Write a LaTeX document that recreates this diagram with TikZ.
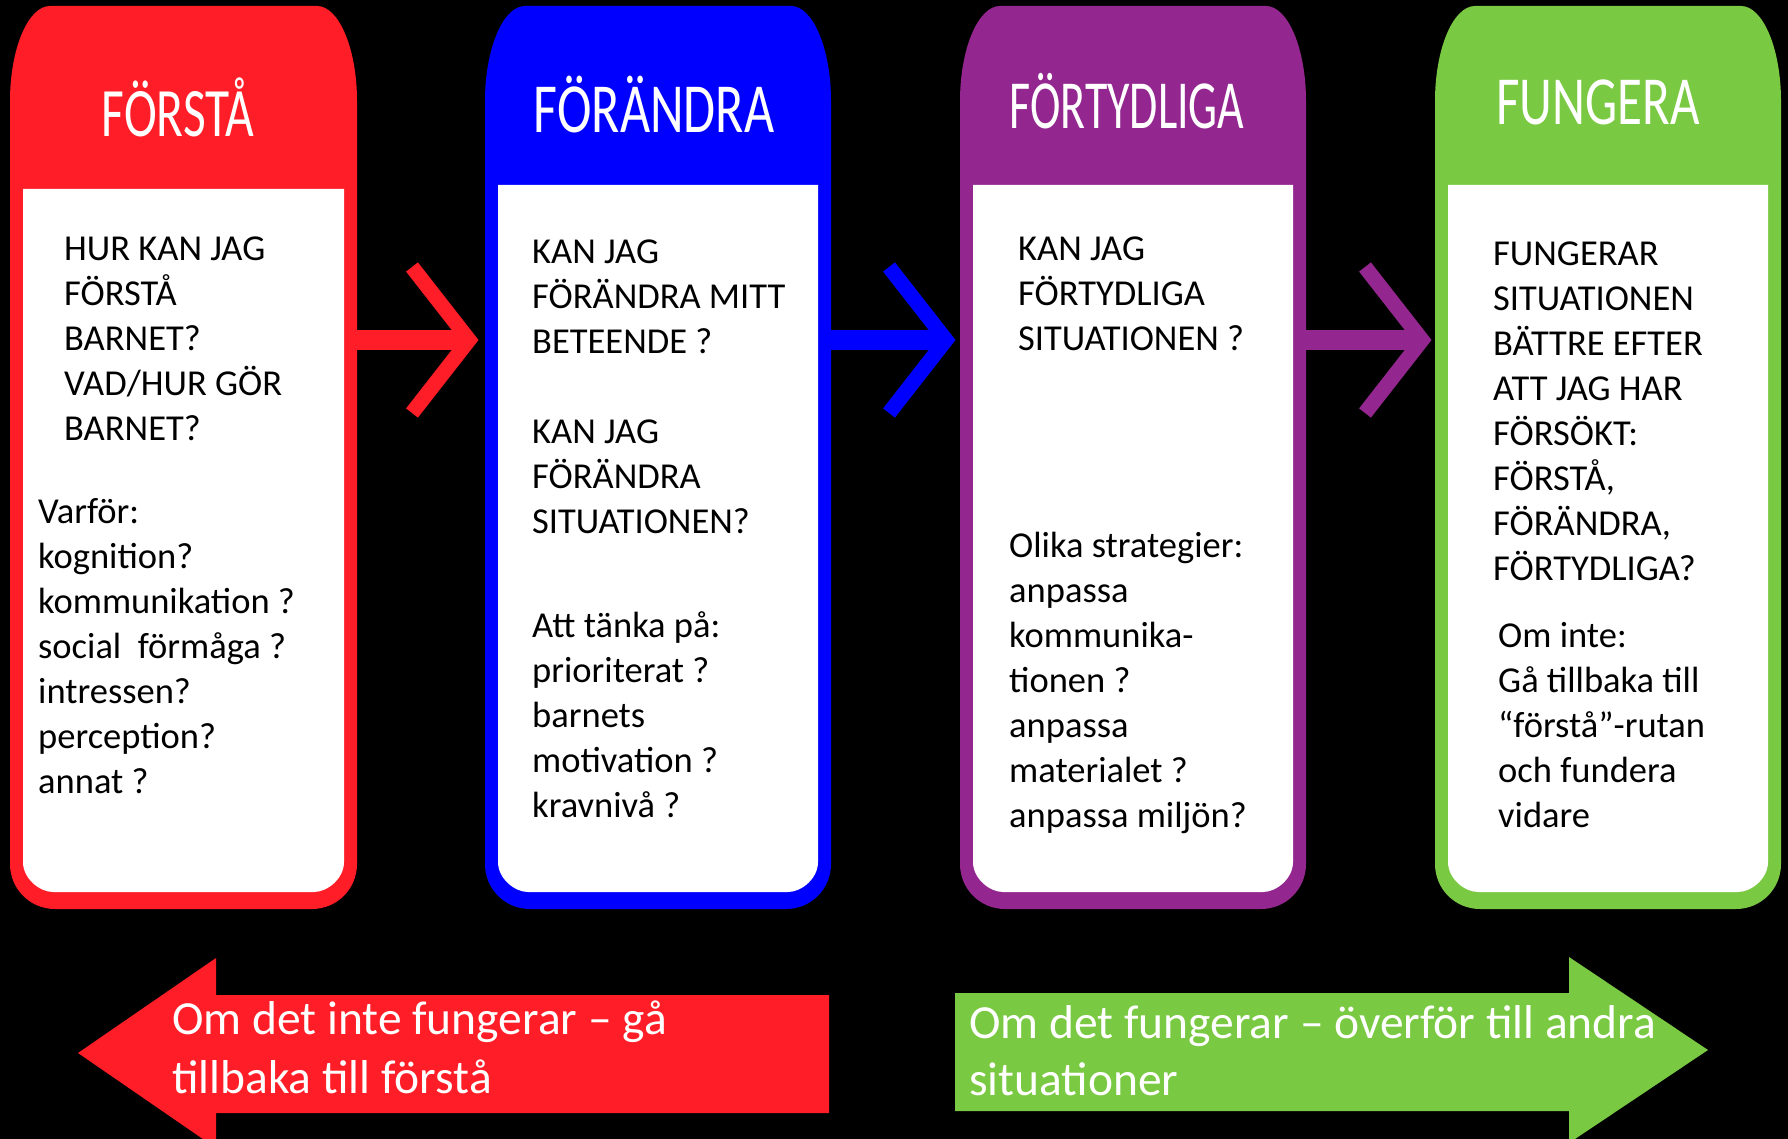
\documentclass[tikz,border=0pt]{standalone}
\usepackage{fontspec}
\setmainfont{Carlito}
\usepackage{graphicx}
\definecolor{cred}{RGB}{255,30,39}
\definecolor{cblue}{RGB}{0,0,255}
\definecolor{cpurple}{RGB}{147,39,143}
\definecolor{cgreen}{RGB}{122,201,66}
\newcommand\rw[1]{\hbox{#1}}
% L R W colour
\newcommand\panel[4]{%
\fill[#4] (#1,864) -- (#1,101) .. controls (#1,49) and ({#1+18},6) .. ({#1+40},6) -- ({#2-40},6) .. controls ({#2-18},6) and (#2,49) .. (#2,101) -- (#2,864) .. controls (#2,889) and ({#2-20},909) .. ({#2-45},909) -- ({#1+45},909) .. controls ({#1+20},909) and (#1,889) .. (#1,864) -- cycle;
\fill[white] ({#1+13},#3) -- ({#2-13},#3) -- ({#2-13},862) .. controls ({#2-13},878.6) and ({#2-29.6},892) .. ({#2-43},892) -- ({#1+43},892) .. controls ({#1+29.6},892) and ({#1+13},878.6) .. ({#1+13},862) -- cycle;}
% box right, tip x, colour, name
\newcommand\chev[4]{%
\coordinate (#4s) at (#1,340);
\coordinate (#4e) at ({#2-14},340);
\coordinate (#4a) at ({#2-69},267);
\coordinate (#4v) at ({#2-12},340);
\coordinate (#4b) at ({#2-69},413);
\draw[#3, line width=20pt] (#4s) -- (#4e);
\draw[#3, line width=15pt, miter limit=10] (#4a) -- (#4v) -- (#4b);}
\tikzset{
  body/.style={anchor=base west, inner sep=0pt, text=black, font=\fontsize{36.5}{45}\selectfont},
  ttl/.style={anchor=base, inner sep=0pt, text=white, font=\fontsize{51}{60}\selectfont},
  arrtext/.style={anchor=base west, inner sep=0pt, text=white, font=\fontsize{47.5}{58}\selectfont}
}
\begin{document}
\begin{tikzpicture}[x=1pt,y=-1pt]
\useasboundingbox (0,0) rectangle (1788,1139);
\fill[black] (0,0) rectangle (1788,1139);
\clip (0,0) rectangle (1788,1139);
% panels
\panel{10}{357}{189}{cred}
\panel{485}{831}{185}{cblue}
\panel{960}{1306}{185}{cpurple}
\panel{1435}{1781}{185}{cgreen}
% chevron arrows
\chev{357}{481}{cred}{c1}
\chev{831}{958}{cblue}{c2}
\chev{1306}{1434}{cpurple}{c3}
% bottom arrows
\fill[cred] (78,1053) -- (216,958) -- (216,995) -- (829,995) -- (829,1113) -- (216,1113) -- (216,1148) -- cycle;
\fill[cgreen] (955,993) -- (1569,993) -- (1569,957) -- (1708,1050) -- (1569,1143) -- (1569,1111) -- (955,1111) -- cycle;
% titles
\node[ttl] (h1) at (178,137) {\scalebox{0.97}[1.36]{FÖRSTÅ}};
\node[ttl] (h2) at (654,133) {\scalebox{1.02}[1.38]{FÖRÄNDRA}};
\node[ttl] (h3) at (1127,129) {\scalebox{0.9}[1.35]{FÖRTYDLIGA}};
\node[ttl] (h4) at (1598,125) {\scalebox{1}[1.35]{FUNGERA}};
% red body
\node[body] (t1a) at (64,261) {\vtop{\rw{HUR KAN JAG}\rw{FÖRSTÅ}\rw{BARNET?}\rw{VAD/HUR GÖR}\rw{BARNET?}}};
\node[body] (t1b) at (38,523) {\vtop{\rw{Varför:}\rw{kognition?}\rw{kommunikation ?}\rw{social\ \ förmåga ?}\rw{intressen?}\rw{perception?}\rw{annat ?}}};
% blue body
\node[body] (t2a) at (532,264) {\vtop{\rw{KAN JAG}\rw{FÖRÄNDRA MITT}\rw{BETEENDE ?}}};
\node[body] (t2b) at (532,443) {\vtop{\rw{KAN JAG}\rw{FÖRÄNDRA}\rw{SITUATIONEN?}}};
\node[body] (t2c) at (532,637) {\vtop{\rw{Att tänka på:}\rw{prioriterat ?}\rw{barnets}\rw{motivation ?}\rw{kravnivå ?}}};
% purple body
\node[body] (t3a) at (1018,261) {\vtop{\rw{KAN JAG}\rw{FÖRTYDLIGA}\rw{SITUATIONEN ?}}};
\node[body] (t3b) at (1009,557) {\vtop{\rw{Olika strategier:}\rw{anpassa}\rw{kommunika-}\rw{tionen ?}\rw{anpassa}\rw{materialet ?}\rw{anpassa miljön?}}};
% green body
\node[body] (t4a) at (1493,266) {\vtop{\rw{FUNGERAR}\rw{SITUATIONEN}\rw{BÄTTRE EFTER}\rw{ATT JAG HAR}\rw{FÖRSÖKT:}\rw{FÖRSTÅ,}\rw{FÖRÄNDRA,}\rw{FÖRTYDLIGA?}}};
\node[body] (t4b) at (1498,647) {\vtop{\rw{Om inte:}\rw{Gå tillbaka till}\rw{“förstå”-rutan}\rw{och fundera}\rw{vidare}}};
% arrow texts
\node[arrtext] (a1) at (172,1034) {\vtop{\baselineskip=59pt\rw{Om det inte fungerar – gå}\rw{tillbaka till förstå}}};
\node[arrtext] (a2) at (969,1038) {\vtop{\baselineskip=57pt\rw{Om det fungerar – överför till andra}\rw{situationer}}};
\end{tikzpicture}
\end{document}
